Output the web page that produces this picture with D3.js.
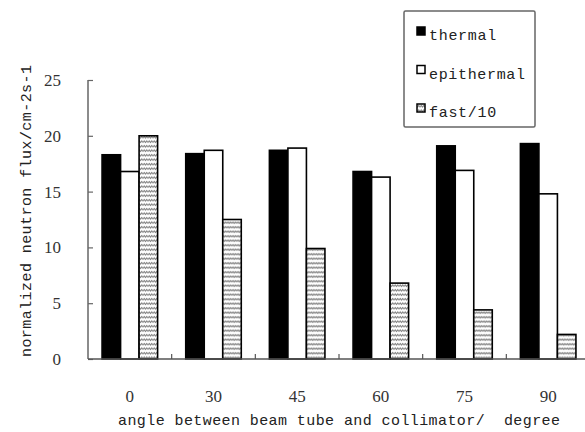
<!DOCTYPE html>
<html>
<head>
<meta charset="utf-8">
<script src="https://cdn.jsdelivr.net/npm/d3@7"></script>
<style>
  body { margin: 0; background: #fff; }
  svg { display: block; }
</style>
</head>
<body>
<svg id="chart" width="585" height="432"></svg>
<script>
// data
var angles = ["0", "30", "45", "60", "75", "90"];
var seriesNames = ["thermal", "epithermal", "fast/10"];
var thermal = [18.3, 18.4, 18.7, 16.8, 19.1, 19.3];
var epithermal = [16.8, 18.7, 18.9, 16.3, 16.9, 14.8];
var fast10 = [20.0, 12.5, 9.9, 6.8, 4.4, 2.2];
var yTicks = [0, 5, 10, 15, 20, 25];

var svg = d3.select("#chart");
var monoFont = "'Liberation Mono', 'DejaVu Sans Mono', monospace";
var serifFont = "'Liberation Serif', 'DejaVu Serif', serif";

// zigzag pattern for the fast bars
var defs = svg.append("defs");
var pat = defs.append("pattern")
    .attr("id", "zig")
    .attr("patternUnits", "userSpaceOnUse")
    .attr("width", 5).attr("height", 4.5);
pat.append("rect").attr("width", 5).attr("height", 4.5).attr("fill", "#fff");
pat.append("path")
    .attr("d", "M0,3 L1.25,1.5 L2.5,3 L3.75,1.5 L5,3")
    .attr("fill", "none").attr("stroke", "#777").attr("stroke-width", 1);

var x0 = d3.scaleBand().domain(angles).range([88, 590]).paddingInner(0).paddingOuter(0);
var x1 = d3.scaleBand().domain(seriesNames).range([0, x0.bandwidth()]).paddingInner(0).paddingOuter(0.76);
var y = d3.scaleLinear().domain([0, 25]).range([359, 80]);

var fills = { "thermal": "#000", "epithermal": "#fff", "fast/10": "url(#zig)" };
var values = { "thermal": thermal, "epithermal": epithermal, "fast/10": fast10 };

// bars
var groups = svg.append("g").selectAll("g")
    .data(angles)
    .join("g")
    .attr("transform", function (d) { return "translate(" + x0(d) + ",0)"; });

groups.selectAll("rect")
    .data(function (d, i) {
        return seriesNames.map(function (s) { return { s: s, v: values[s][i] }; });
    })
    .join("rect")
    .attr("x", function (d) { return x1(d.s); })
    .attr("width", x1.bandwidth())
    .attr("y", function (d) { return y(d.v); })
    .attr("height", function (d) { return y(0) - y(d.v); })
    .attr("fill", function (d) { return fills[d.s]; })
    .attr("stroke", "#000")
    .attr("stroke-width", 1.6);

// y axis (ticks point inward)
var yAxis = svg.append("g")
    .attr("transform", "translate(88,0)")
    .call(d3.axisRight(y).tickValues(yTicks).tickSize(5).tickFormat(""));
yAxis.select(".domain").attr("stroke", "#666").attr("stroke-width", 1.5).attr("d", "M0,80V359");
yAxis.selectAll(".tick line").attr("stroke", "#666").attr("stroke-width", 1.2);

svg.append("g").selectAll("text")
    .data(yTicks)
    .join("text")
    .attr("x", 61)
    .attr("y", function (d) { return y(d) + 6; })
    .attr("text-anchor", "end")
    .attr("font-family", serifFont)
    .attr("font-size", 17)
    .attr("fill", "#333")
    .text(function (d) { return d; });

// x axis
svg.append("line")
    .attr("x1", 88).attr("x2", 585)
    .attr("y1", y(0)).attr("y2", y(0))
    .attr("stroke", "#555").attr("stroke-width", 1.5);

svg.append("g").selectAll("line")
    .data(angles.slice(1))
    .join("line")
    .attr("x1", function (d) { return x0(d); })
    .attr("x2", function (d) { return x0(d); })
    .attr("y1", y(0)).attr("y2", y(0) - 5)
    .attr("stroke", "#555").attr("stroke-width", 1.2);

svg.append("g").selectAll("text")
    .data(angles)
    .join("text")
    .attr("x", function (d) { return x0(d) + x0.bandwidth() / 2; })
    .attr("y", 402)
    .attr("text-anchor", "middle")
    .attr("font-family", serifFont)
    .attr("font-size", 17)
    .attr("fill", "#333")
    .text(function (d) { return d; });

// axis titles
svg.append("text")
    .attr("x", 118).attr("y", 425)
    .attr("font-family", monoFont)
    .attr("font-size", 15)
    .attr("fill", "#222")
    .attr("textLength", 442)
    .attr("lengthAdjust", "spacing")
    .attr("xml:space", "preserve")
    .text("angle between beam tube and collimator/  degree");

svg.append("text")
    .attr("transform", "translate(31,357) rotate(-90)")
    .attr("font-family", monoFont)
    .attr("font-size", 15)
    .attr("fill", "#222")
    .attr("textLength", 292)
    .attr("lengthAdjust", "spacing")
    .text("normalized neutron flux/cm-2s-1");

// legend
var legend = svg.append("g");
legend.append("rect")
    .attr("x", 404).attr("y", 11)
    .attr("width", 131).attr("height", 116)
    .attr("rx", 1.5)
    .attr("fill", "#fff").attr("stroke", "#666").attr("stroke-width", 1.5);

var legItems = legend.selectAll("g")
    .data(seriesNames)
    .join("g")
    .attr("transform", function (d, i) { return "translate(0," + (i * 38.5) + ")"; });

legItems.append("rect")
    .attr("x", 417).attr("y", 27)
    .attr("width", 8).attr("height", 8)
    .attr("fill", function (d) { return fills[d]; })
    .attr("stroke", "#000").attr("stroke-width", 1.5);

legItems.append("text")
    .attr("x", 429).attr("y", 40)
    .attr("font-family", monoFont)
    .attr("font-size", 15)
    .attr("fill", "#222")
    .attr("textLength", function (d) { return d.length * 9.6; })
    .attr("lengthAdjust", "spacing")
    .text(function (d) { return d; });
</script>
</body>
</html>
